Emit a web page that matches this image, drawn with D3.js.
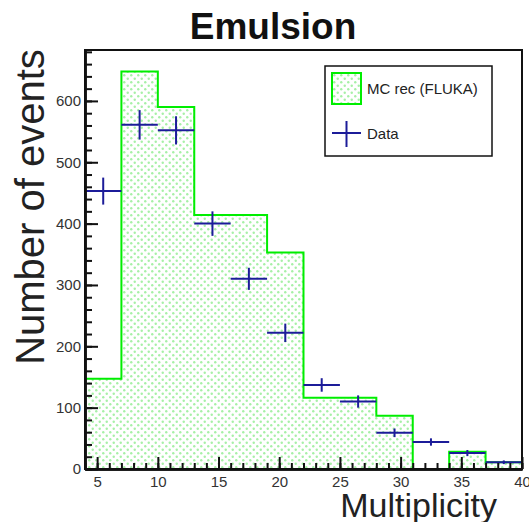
<!DOCTYPE html>
<html>
<head>
<meta charset="utf-8">
<script src="https://cdn.jsdelivr.net/npm/d3@7"></script>
<style>
  body { margin: 0; background: #fff; }
  text { font-family: "Liberation Sans", Arial, sans-serif; }
</style>
</head>
<body>
<div class="chart"></div>
<script>
// bins of width 3 in multiplicity
var binLo   = [4, 7, 10, 13, 16, 19, 22, 25, 28, 31, 34, 37];
var mcRec   = [147, 648, 590, 414, 414, 353, 116, 116, 87, 0, 28, 11];
var dataVal = [453, 561, 552, 400, 310, 222, 137, 110, 59, 44, 26, 11];
var dataErr = [22, 24, 23, 20, 18, 15, 11, 10, 7, 6, 5, 3];
var binW = 3;
var xTicks = [5, 10, 15, 20, 25, 30, 35, 40];
var yTicks = [0, 100, 200, 300, 400, 500, 600];

var W = 529, H = 522;
var margin = {top: 50, right: 7, bottom: 53, left: 85};

var x = d3.scaleLinear().domain([4, 40]).range([margin.left, W - margin.right]);
var y = d3.scaleLinear().domain([0, 683]).range([H - margin.bottom, margin.top]);

var svg = d3.select(".chart").append("svg")
    .attr("width", W)
    .attr("height", H);

// dotted fill like ROOT's hatch style
var pat = svg.append("defs").append("pattern")
    .attr("id", "dots")
    .attr("patternUnits", "userSpaceOnUse")
    .attr("width", 7)
    .attr("height", 7);
pat.append("rect").attr("width", 7).attr("height", 7).attr("fill", "#fff");
pat.append("circle").attr("cx", 1.75).attr("cy", 1.75).attr("r", 1.2).attr("fill", "#a6f0a6");
pat.append("circle").attr("cx", 5.25).attr("cy", 5.25).attr("r", 1.2).attr("fill", "#a6f0a6");

// histogram outline points
var pts = [[4, 0]];
binLo.forEach(function(lo, i) {
  pts.push([lo, mcRec[i]]);
  pts.push([lo + binW, mcRec[i]]);
});
pts.push([40, 0]);

var outline = d3.line()
    .x(function(d) { return x(d[0]); })
    .y(function(d) { return y(d[1]); });

svg.append("path")
    .datum(pts)
    .attr("d", outline)
    .style("fill", "url(#dots)")
    .style("stroke", "#00ee00")
    .style("stroke-width", 2);

// data points with errors
var g = svg.append("g")
    .style("stroke", "#1c1c99")
    .style("stroke-width", 2);
binLo.forEach(function(lo, i) {
  var c = lo + binW / 2;
  g.append("line")
      .attr("x1", x(lo)).attr("x2", x(lo + binW))
      .attr("y1", y(dataVal[i])).attr("y2", y(dataVal[i]));
  g.append("line")
      .attr("x1", x(c)).attr("x2", x(c))
      .attr("y1", y(dataVal[i] - dataErr[i])).attr("y2", y(dataVal[i] + dataErr[i]));
});

// frame
svg.append("rect")
    .attr("x", margin.left).attr("y", margin.top)
    .attr("width", W - margin.right - margin.left)
    .attr("height", H - margin.bottom - margin.top)
    .style("fill", "none")
    .style("stroke", "#111")
    .style("stroke-width", 2);

// Y axis
var yAxis = svg.append("g")
    .attr("transform", "translate(" + margin.left + ",0)")
    .call(d3.axisLeft(y).tickValues(yTicks).tickSize(-13).tickSizeOuter(0).tickPadding(4));
svg.append("g")
    .attr("transform", "translate(" + margin.left + ",0)")
    .call(d3.axisLeft(y).tickValues(d3.range(0, 681, 20)).tickSize(-7).tickSizeOuter(0).tickFormat(""));

// X axis
var xAxis = svg.append("g")
    .attr("transform", "translate(0," + (H - margin.bottom) + ")")
    .call(d3.axisBottom(x).tickValues(xTicks).tickSize(-12).tickSizeOuter(0).tickPadding(7));
svg.append("g")
    .attr("transform", "translate(0," + (H - margin.bottom) + ")")
    .call(d3.axisBottom(x).tickValues(d3.range(4, 41, 1)).tickSize(-6).tickSizeOuter(0).tickFormat(""));

svg.selectAll(".domain").style("stroke", "#111").style("stroke-width", 2.5);
svg.selectAll(".tick line").style("stroke", "#111").style("stroke-width", 2);
svg.selectAll(".tick text")
    .style("font-family", "Liberation Sans, Arial, sans-serif")
    .style("font-size", "15px")
    .style("fill", "#333");

// legend
var leg = svg.append("g");
leg.append("rect")
    .attr("x", 325).attr("y", 66).attr("width", 167).attr("height", 90)
    .style("fill", "#fff").style("stroke", "#111").style("stroke-width", 1.5);
leg.append("rect")
    .attr("x", 332).attr("y", 73).attr("width", 29).attr("height", 31)
    .style("fill", "url(#dots)").style("stroke", "#00ee00").style("stroke-width", 2);
leg.append("text").attr("x", 367).attr("y", 94)
    .style("font-size", "15px").style("fill", "#222").text("MC rec (FLUKA)");
leg.append("line").attr("x1", 332).attr("x2", 361).attr("y1", 133).attr("y2", 133)
    .style("stroke", "#1c1c99").style("stroke-width", 2);
leg.append("line").attr("x1", 346.5).attr("x2", 346.5).attr("y1", 121).attr("y2", 147)
    .style("stroke", "#1c1c99").style("stroke-width", 2);
leg.append("text").attr("x", 367).attr("y", 139)
    .style("font-size", "15px").style("fill", "#222").text("Data");

// titles
svg.append("text")
    .attr("x", 273).attr("y", 39)
    .attr("text-anchor", "middle")
    .style("font-size", "37px").style("font-weight", "bold").style("fill", "#111")
    .text("Emulsion");

svg.append("text")
    .attr("transform", "translate(44,207) rotate(-90)")
    .attr("text-anchor", "middle")
    .style("font-size", "40px").style("fill", "#222")
    .text("Number of events");

svg.append("text")
    .attr("x", 497).attr("y", 517)
    .attr("text-anchor", "end")
    .style("font-size", "34px").style("fill", "#222")
    .text("Multiplicity");
</script>
</body>
</html>
